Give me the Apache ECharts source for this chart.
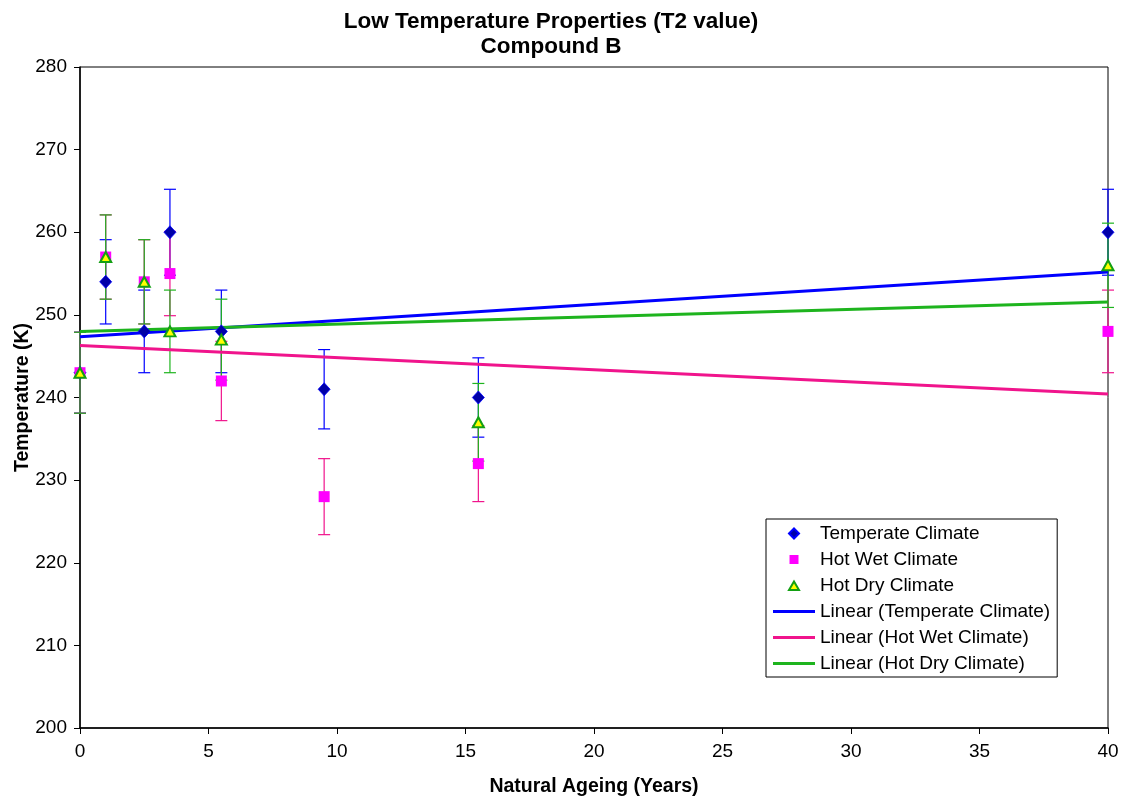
<!DOCTYPE html>
<html><head><meta charset="utf-8">
<script src="https://cdn.jsdelivr.net/npm/echarts@6/dist/echarts.min.js"></script>
<style>html,body{margin:0;padding:0;background:#fff}#c{width:1128px;height:801px}</style>
</head><body><div id="c"></div>
<script>
// ---- data ----
const tempX = [0, 1, 2.5, 3.5, 5.5, 9.5, 15.5, 40];
const tempY = [243, 254, 248, 260, 248, 241, 240, 260];
const tempErr = [4.9, 5.1, 5.0, 5.2, 5.0, 4.8, 4.8, 5.2];

const wetX = [0, 1, 2.5, 3.5, 5.5, 9.5, 15.5, 40];
const wetY = [243, 257, 254, 255, 242, 228, 232, 248];
const wetErr = [4.9, 5.1, 5.1, 5.1, 4.8, 4.6, 4.6, 5.0];

const dryX = [0, 1, 2.5, 3.5, 5.5, 15.5, 40];
const dryY = [243, 257, 254, 248, 247, 237, 256];
const dryErr = [4.9, 5.1, 5.1, 5.0, 4.9, 4.7, 5.1];

const xTicks = [0, 5, 10, 15, 20, 25, 30, 35, 40];
const yTicks = [200, 210, 220, 230, 240, 250, 260, 270, 280];

const names = ['Temperate Climate', 'Hot Wet Climate', 'Hot Dry Climate',
  'Linear (Temperate Climate)', 'Linear (Hot Wet Climate)', 'Linear (Hot Dry Climate)'];

// least-squares trend line over the data x-range (Excel linear trendline)
function trend(xs, ys) {
  const n = xs.length;
  const mx = xs.reduce((a, b) => a + b, 0) / n;
  const my = ys.reduce((a, b) => a + b, 0) / n;
  let sxy = 0, sxx = 0;
  for (let i = 0; i < n; i++) { sxy += (xs[i] - mx) * (ys[i] - my); sxx += (xs[i] - mx) ** 2; }
  const b = sxy / sxx, a = my - b * mx;
  const x0 = Math.min(...xs), x1 = Math.max(...xs);
  return [[x0, a + b * x0], [x1, a + b * x1]];
}

function errSeries(name, xs, ys, es, color) {
  return {
    type: 'custom', name: name + ' error', silent: true, z: 2,
    data: xs.map((x, i) => [x, ys[i] - es[i], ys[i] + es[i]]),
    encode: { x: 0, y: [1, 2] },
    renderItem: (params, api) => {
      const lo = api.coord([api.value(0), api.value(1)]);
      const hi = api.coord([api.value(0), api.value(2)]);
      const w = 6;
      const style = { stroke: color, lineWidth: 1.2 };
      return {
        type: 'group', children: [
          { type: 'line', shape: { x1: lo[0], y1: lo[1], x2: hi[0], y2: hi[1] }, style },
          { type: 'line', shape: { x1: lo[0] - w, y1: lo[1], x2: lo[0] + w, y2: lo[1] }, style },
          { type: 'line', shape: { x1: hi[0] - w, y1: hi[1], x2: hi[0] + w, y2: hi[1] }, style }
        ]
      };
    }
  };
}

const cBlue = '#0000FF', cPink = '#F0148C', cGreen = '#1EB41E';
const FONT = 'Liberation Sans, Arial, sans-serif';
// legend icons: 42x11 boxes (invisible corner points keep the marker unstretched)
const lineIcon = 'path://M0,4L42,4L42,7L0,7Z';
const diamondIcon = 'path://M0,0L0,0M42,11L42,11M16,5.5L21,0.5L26,5.5L21,10.5Z';
const squareIcon = 'path://M0,0L0,0M42,11L42,11M16.5,1L25.5,1L25.5,10L16.5,10Z';
const triIcon = 'path://M0,0L0,0M42,11L42,11M21,1.5L26,10L16,10Z';

const chart = echarts.init(document.getElementById('c'), null, { renderer: 'canvas' });
chart.setOption({
  backgroundColor: '#fff',
  animation: false,
  title: {
    text: 'Low Temperature Properties (T2 value)\nCompound B',
    left: 546, top: 4, textAlign: 'center',
    textStyle: { fontFamily: FONT, fontSize: 22.5, fontWeight: 'bold', color: '#000', lineHeight: 25 }
  },
  grid: { left: 80, right: 20, top: 67, bottom: 73, outerBoundsMode: 'none', containLabel: false,
    show: true, borderColor: '#000', borderWidth: 1, backgroundColor: 'transparent' },
  legend: {
    orient: 'vertical', left: 766, top: 519,
    data: [
      { name: names[0], icon: diamondIcon },
      { name: names[1], icon: squareIcon },
      { name: names[2], icon: triIcon },
      { name: names[3], icon: lineIcon },
      { name: names[4], icon: lineIcon },
      { name: names[5], icon: lineIcon }
    ],
    symbolKeepAspect: true,
    itemWidth: 42, itemHeight: 11, itemGap: 5,
    padding: [4, 7, 3, 6],
    borderColor: '#000', borderWidth: 1,
    backgroundColor: '#fff',
    selectedMode: false,
    textStyle: { fontFamily: FONT, fontSize: 19, color: '#000', lineHeight: 21 }
  },
  xAxis: {
    type: 'value', min: 0, max: 40, interval: 5,
    name: 'Natural Ageing (Years)', nameLocation: 'middle', nameGap: 49, nameMoveOverlap: false,
    nameTextStyle: { fontFamily: FONT, fontSize: 19.5, fontWeight: 'bold', color: '#000' },
    axisLine: { onZero: false, lineStyle: { color: '#000', width: 1.5 } },
    axisTick: { show: true, inside: false, length: 6, lineStyle: { color: '#000', width: 1 } },
    axisLabel: { fontFamily: FONT, fontSize: 19, color: '#000', margin: 14,
      formatter: v => xTicks.includes(v) ? String(v) : '' },
    splitLine: { show: false }
  },
  yAxis: {
    type: 'value', min: 200, max: 280, interval: 10,
    name: 'Temperature (K)', nameLocation: 'middle', nameGap: 47, nameMoveOverlap: false,
    nameTextStyle: { fontFamily: FONT, fontSize: 19.5, fontWeight: 'bold', color: '#000' },
    axisLine: { onZero: false, lineStyle: { color: '#000', width: 1.5 } },
    axisTick: { show: true, inside: false, length: 6, lineStyle: { color: '#000', width: 1 } },
    axisLabel: { fontFamily: FONT, fontSize: 19, color: '#000', margin: 13,
      formatter: v => yTicks.includes(v) ? String(v) : '' },
    splitLine: { show: false }
  },
  series: [
    errSeries(names[0], tempX, tempY, tempErr, cBlue),
    errSeries(names[1], wetX, wetY, wetErr, cPink),
    errSeries(names[2], dryX, dryY, dryErr, cGreen),
    {
      type: 'line', name: names[3], data: trend(tempX, tempY), showSymbol: false, symbol: 'none',
      lineStyle: { color: cBlue, width: 3 }, itemStyle: { color: cBlue }, z: 3, silent: true
    },
    {
      type: 'line', name: names[4], data: trend(wetX, wetY), showSymbol: false, symbol: 'none',
      lineStyle: { color: cPink, width: 3 }, itemStyle: { color: cPink }, z: 3, silent: true
    },
    {
      type: 'line', name: names[5], data: trend(dryX, dryY), showSymbol: false, symbol: 'none',
      lineStyle: { color: cGreen, width: 3 }, itemStyle: { color: cGreen }, z: 3, silent: true
    },
    {
      type: 'scatter', name: names[0], data: tempX.map((x, i) => [x, tempY[i]]),
      symbol: 'diamond', symbolSize: [12, 13], z: 4,
      itemStyle: { color: '#0000A8', borderColor: '#0000FF', borderWidth: 0.8, opacity: 1 }
    },
    {
      type: 'scatter', name: names[1], data: wetX.map((x, i) => [x, wetY[i]]),
      symbol: 'rect', symbolSize: 11, z: 5,
      itemStyle: { color: '#FF00FF', opacity: 1 }
    },
    {
      type: 'scatter', name: names[2], data: dryX.map((x, i) => [x, dryY[i]]),
      symbol: 'triangle', symbolSize: [11, 10], z: 6,
      itemStyle: { color: '#FFFF00', borderColor: '#13A013', borderWidth: 2, opacity: 1 }
    }
  ]
});
</script></body></html>
